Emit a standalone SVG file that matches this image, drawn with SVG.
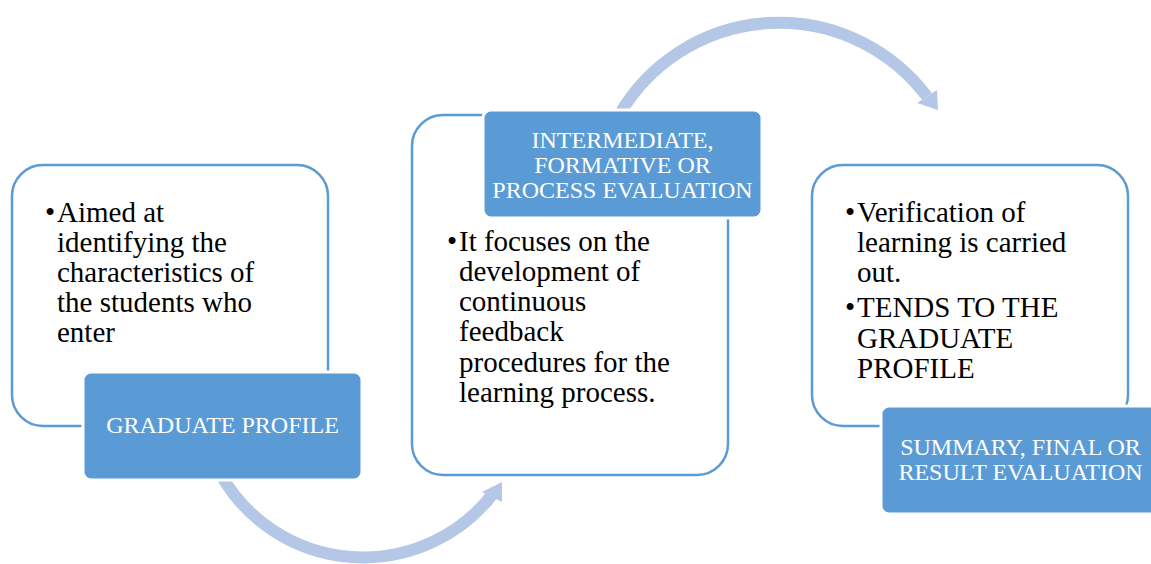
<svg xmlns="http://www.w3.org/2000/svg" width="1151" height="564" viewBox="0 0 1151 564">
<style>
.outline{fill:#FFFFFF;stroke:#5B9BD5;stroke-width:2.5}
.label{fill:#5B9BD5;stroke:#FFFFFF;stroke-width:3}
.body{font-family:"Liberation Serif","Times New Roman",serif;font-size:29px;fill:#000000}
.lbl{font-family:"Liberation Serif","Times New Roman",serif;font-size:24px;fill:#FFFFFF;text-anchor:middle}
.arc{fill:none;stroke:#B4C7E7;stroke-width:12}
.head{fill:#B4C7E7}
</style>
<rect width="1151" height="564" fill="#FFFFFF"/>
<g id="box1">
<rect class="outline" x="12" y="165" width="316" height="261" rx="31" ry="31"/>
</g>
<g id="box2">
<rect class="outline" x="412" y="115" width="316" height="360" rx="31" ry="31"/>
</g>
<g id="box3">
<rect class="outline" x="812" y="165" width="316" height="261" rx="31" ry="31"/>
</g>
<g id="connectors">
<path class="arc" d="M221,475 A164,164 0 0 0 492,495"/>
<polygon class="head" points="482,492 502,482 502,502"/>
<path class="arc" d="M620,113.5 A185,185 0 0 1 927,96.5"/>
<polygon class="head" points="937,90 917,103 938,110"/>
</g>
<g id="text1">
<text class="body" x="45" y="222">•</text>
<text class="body" x="57" y="222">Aimed at</text>
<text class="body" x="57" y="252">identifying the</text>
<text class="body" x="57" y="282">characteristics of</text>
<text class="body" x="57" y="312">the students who</text>
<text class="body" x="57" y="342">enter</text>
</g>
<g id="text2">
<text class="body" x="447" y="251">•</text>
<text class="body" x="459" y="251">It focuses on the</text>
<text class="body" x="459" y="281">development of</text>
<text class="body" x="459" y="311">continuous</text>
<text class="body" x="459" y="341">feedback</text>
<text class="body" x="459" y="372">procedures for the</text>
<text class="body" x="459" y="402">learning process.</text>
</g>
<g id="text3">
<text class="body" x="845" y="222">•</text>
<text class="body" x="857" y="222">Verification of</text>
<text class="body" x="857" y="252">learning is carried</text>
<text class="body" x="857" y="282">out.</text>
<text class="body" x="845" y="317">•</text>
<text class="body" x="857" y="317">TENDS TO THE</text>
<text class="body" x="857" y="348">GRADUATE</text>
<text class="body" x="857" y="378">PROFILE</text>
</g>
<g id="label1">
<rect class="label" x="83" y="372" width="279" height="108" rx="8" ry="8"/>
<text class="lbl" x="222.5" y="433">GRADUATE PROFILE</text>
</g>
<g id="label2">
<rect class="label" x="483" y="110" width="279" height="108" rx="8" ry="8"/>
<text class="lbl" x="622.5" y="148">INTERMEDIATE,</text>
<text class="lbl" x="622.5" y="173">FORMATIVE OR</text>
<text class="lbl" x="622.5" y="198">PROCESS EVALUATION</text>
</g>
<g id="label3">
<rect class="label" x="881" y="406" width="279" height="108" rx="8" ry="8"/>
<text class="lbl" x="1020.5" y="455">SUMMARY, FINAL OR</text>
<text class="lbl" x="1020.5" y="480">RESULT EVALUATION</text>
</g>
</svg>
